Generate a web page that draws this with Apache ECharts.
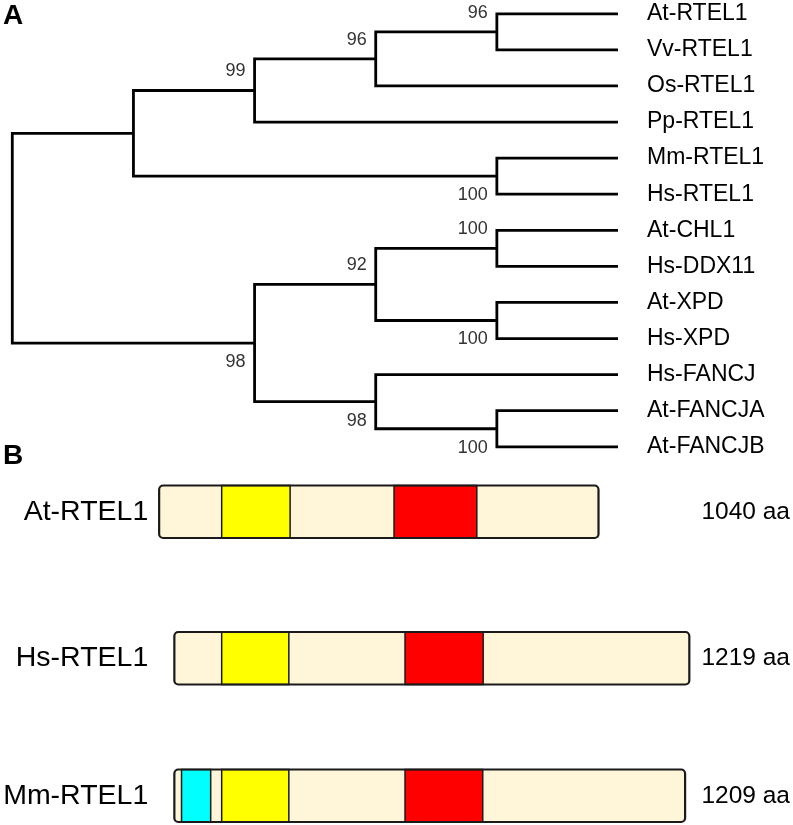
<!DOCTYPE html>
<html><head><meta charset="utf-8">
<script src="https://cdn.jsdelivr.net/npm/echarts/dist/echarts.min.js"></script>
<style>html,body{margin:0;padding:0;background:#fff}#c{width:793px;height:825px}</style>
</head><body><div id="c"></div>
<script>
// ---------- Part A: cladogram ----------
const leafNames = ['At-RTEL1','Vv-RTEL1','Os-RTEL1','Pp-RTEL1','Mm-RTEL1','Hs-RTEL1','At-CHL1','Hs-DDX11','At-XPD','Hs-XPD','Hs-FANCJ','At-FANCJA','At-FANCJB'];
const leafDepth = 5;
const nodeNames = ['root','n1','n2','n3','n4','n5','n6','n7','n8','n9','n10','n11'];
const nodeDepth = [0,1,2,3,4,4,2,3,4,4,3,4];
const nodeChildren = [
  ['n1','n6'], ['n2','n5'], ['n3','Pp-RTEL1'], ['n4','Os-RTEL1'],
  ['At-RTEL1','Vv-RTEL1'], ['Mm-RTEL1','Hs-RTEL1'], ['n7','n10'], ['n8','n9'],
  ['At-CHL1','Hs-DDX11'], ['At-XPD','Hs-XPD'], ['Hs-FANCJ','n11'], ['At-FANCJA','At-FANCJB']
];
const nodeSupport = [null,null,99,96,96,100,98,92,100,100,98,100];

// ---------- Part B: domain structure ----------
const proteins = ['At-RTEL1','Hs-RTEL1','Mm-RTEL1'];
const proteinLength = [1040,1219,1209];
const cyanDomain = [null,null,[17,86]];
const yellowDomain = [[148,310],[112,271],[112,271]];
const redDomain = [[556,752],[546,731],[546,730]];

const FONT = '"Liberation Sans", Arial, sans-serif';
const BEIGE = '#FFF5D8';

// tree layout from structure
const yOf = {}, xOf = {}, parentOf = {}, childIdx = {};
leafNames.forEach((n,i)=>{ yOf[n]=i; xOf[n]=leafDepth; });
nodeNames.forEach((n,k)=>{ nodeChildren[k].forEach((c,j)=>{ parentOf[c]=n; childIdx[c]=j; }); });
function resolveY(name){
  if (name in yOf) return yOf[name];
  const k = nodeNames.indexOf(name);
  const ys = nodeChildren[k].map(resolveY);
  yOf[name] = (ys[0]+ys[1])/2; xOf[name] = nodeDepth[k];
  return yOf[name];
}
resolveY('root');

const bracketData = nodeNames.map((n,k)=>[xOf[n], yOf[n], k]);
const supportData = nodeNames.map((n,k)=>[xOf[n], yOf[n], k]).filter(d=>nodeSupport[d[2]]!=null);
const leafData = leafNames.map((n,i)=>[leafDepth, i, i]);

const series = [
  {
    type:'custom', coordinateSystem:'cartesian2d', xAxisIndex:0, yAxisIndex:0, silent:true,
    data: bracketData,
    renderItem(params, api){
      const k = api.value(2);
      const [a,b] = nodeChildren[k];
      const x = nodeDepth[k];
      const pts = [api.coord([xOf[a], yOf[a]]), api.coord([x, yOf[a]]), api.coord([x, yOf[b]]), api.coord([xOf[b], yOf[b]])];
      return {type:'polyline', shape:{points:pts}, style:{stroke:'#000', lineWidth:2.8, fill:null, lineJoin:'miter', lineCap:'butt'}};
    }
  },
  {
    type:'custom', coordinateSystem:'cartesian2d', xAxisIndex:0, yAxisIndex:0, silent:true,
    data: supportData,
    renderItem(params, api){
      const k = api.value(2);
      const name = nodeNames[k];
      const c = api.coord([api.value(0), api.value(1)]);
      const above = childIdx[name] === 0;
      return {type:'text', x: c[0]-9, y: c[1] + (above ? -19 : 19),
        style:{text:String(nodeSupport[k]), font:'18px '+FONT, fill:'#333', align:'right', verticalAlign:'middle'}};
    }
  },
  {
    type:'custom', coordinateSystem:'cartesian2d', xAxisIndex:0, yAxisIndex:0, silent:true,
    data: leafData,
    renderItem(params, api){
      const i = api.value(2);
      const c = api.coord([api.value(0), api.value(1)]);
      return {type:'text', x: c[0]+29, y: c[1],
        style:{text:leafNames[i], font:'23px '+FONT, fill:'#000', align:'left', verticalAlign:'middle'}};
    }
  }
];

proteins.forEach((p,i)=>{
  series.push({
    type:'custom', coordinateSystem:'cartesian2d', xAxisIndex:i+1, yAxisIndex:2*i+1, silent:true, clip:false,
    data: [[0, 0, i]],
    renderItem(params, api){
      const idx = api.value(2);
      const anchor = yellowDomain[idx][0];
      const h = api.size([0,1])[1];
      const cy = api.coord([0,0])[1];
      const top = cy - h/2;
      const px = v => api.coord([v - anchor, 0])[0];
      const x0 = px(0), x1 = px(proteinLength[idx]);
      const children = [
        {type:'rect', shape:{x:x0, y:top, width:x1-x0, height:h, r:4}, style:{fill:BEIGE, stroke:null}}
      ];
      const doms = [[cyanDomain[idx],'#00FFFF'],[yellowDomain[idx],'#FFFF00'],[redDomain[idx],'#FF0000']];
      doms.forEach(([d,col])=>{
        if(!d) return;
        const a = px(d[0]), b = px(d[1]);
        children.push({type:'rect', shape:{x:a, y:top, width:b-a, height:h}, style:{fill:col, stroke:'#1a1a1a', lineWidth:1.5}});
      });
      children.push({type:'rect', shape:{x:x0, y:top, width:x1-x0, height:h, r:4}, style:{fill:null, stroke:'#1a1a1a', lineWidth:2.2}});
      return {type:'group', children};
    }
  });
});

const rowTops = [485.5, 632, 769.5];
const grids = [{left:12.3, right:175, top:13.8, height:433}];
rowTops.forEach(t=>grids.push({left:158.3, right:101.3, top:t, height:52.5}));

const xAxes = [{type:'value', gridIndex:0, min:0, max:leafDepth, show:false}];
const yAxes = [{type:'value', gridIndex:0, min:0, max:leafNames.length-1, inverse:true, show:false}];
proteins.forEach((p,i)=>{
  xAxes.push({type:'value', gridIndex:i+1, min:-150, max:1112, show:false});
  yAxes.push({type:'category', gridIndex:i+1, data:[p], position:'left',
    axisLine:{show:false}, axisTick:{show:false}, splitLine:{show:false},
    axisLabel:{margin:10, fontSize:28.5, color:'#000', fontFamily:FONT}});
  yAxes.push({type:'category', gridIndex:i+1, data:[proteinLength[i]+' aa'], position:'right',
    axisLabel:{margin:10, fontSize:24.5, color:'#000', fontFamily:FONT},
    axisLine:{show:false}, axisTick:{show:false}, splitLine:{show:false}});
});

const chart = echarts.init(document.getElementById('c'), null, {renderer:'canvas'});
chart.setOption({
  animation:false,
  backgroundColor:'#fff',
  grid: grids,
  xAxis: xAxes,
  yAxis: yAxes,
  graphic: [
    {type:'text', left:3, top:2, style:{text:'A', font:'bold 28px '+FONT, fill:'#000'}},
    {type:'text', left:3, top:442, style:{text:'B', font:'bold 28px '+FONT, fill:'#000'}}
  ],
  series
});
</script></body></html>
